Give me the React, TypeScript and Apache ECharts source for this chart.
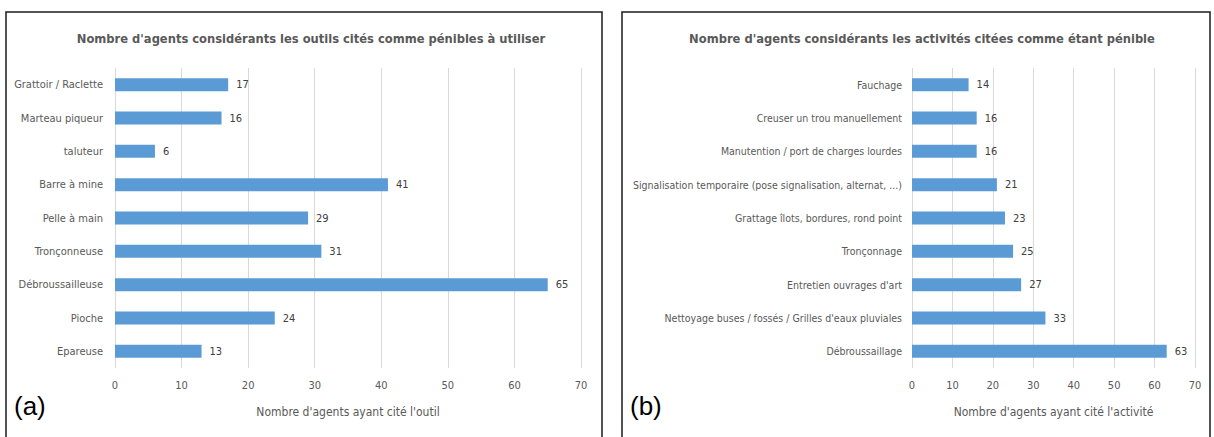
import React, { useEffect, useRef } from "react";
import * as echarts from "echarts";

const toolCategories = [
  "Grattoir / Raclette",
  "Marteau piqueur",
  "taluteur",
  "Barre à mine",
  "Pelle à main",
  "Tronçonneuse",
  "Débroussailleuse",
  "Pioche",
  "Epareuse",
];
const toolValues = [17, 16, 6, 41, 29, 31, 65, 24, 13];

const activityCategories = [
  "Fauchage",
  "Creuser un trou manuellement",
  "Manutention / port de charges lourdes",
  "Signalisation temporaire (pose signalisation, alternat, ...)",
  "Grattage îlots, bordures, rond point",
  "Tronçonnage",
  "Entretien ouvrages d'art",
  "Nettoyage buses / fossés / Grilles d'eaux pluviales",
  "Débroussaillage",
];
const activityValues = [14, 16, 16, 21, 23, 25, 27, 33, 63];

const titleLeft = "Nombre d'agents considérants les outils cités comme pénibles à utiliser";
const titleRight = "Nombre d'agents considérants les activités citées comme étant pénible";
const axisNameLeft = "Nombre d'agents ayant cité l'outil";
const axisNameRight = "Nombre d'agents ayant cité l'activité";
const panelLabels = ["(a)", "(b)"];

const FONT = "'Liberation Sans Narrow', 'DejaVu Sans Condensed', 'Roboto', sans-serif";
const BAR = "#5B9BD5";
const TXT = "#595959";

export default function App() {
  const ref = useRef<HTMLDivElement>(null);
  useEffect(() => {
    if (!ref.current) return;
    const chart = echarts.init(ref.current, undefined, { renderer: "svg" });
    const xAxisBase = (gridIndex: number, name: string) => ({
      type: "value",
      gridIndex,
      min: 0,
      max: 70,
      interval: 10,
      name,
      nameLocation: "middle",
      nameGap: 38,
      nameTextStyle: { color: TXT, fontSize: 12, fontFamily: FONT },
      axisLine: { show: false },
      axisTick: { show: false },
      axisLabel: { color: TXT, fontSize: 11, fontFamily: FONT, margin: 12 },
      splitLine: { show: true, lineStyle: { color: "#d9d9d9", width: 1 } },
    });
    const yAxisBase = (gridIndex: number, data: string[], margin: number, fontSize: number) => ({
      type: "category",
      gridIndex,
      data,
      inverse: true,
      axisLine: { show: false },
      axisTick: { show: false },
      axisLabel: { color: TXT, fontSize, fontFamily: FONT, margin },
    });
    const seriesBase = (idx: number, data: number[]) => ({
      type: "bar",
      xAxisIndex: idx,
      yAxisIndex: idx,
      data,
      barWidth: 13,
      itemStyle: { color: BAR },
      label: {
        show: true,
        position: "right",
        distance: 8,
        color: "#404040",
        fontSize: 11,
        fontFamily: FONT,
      },
    });
    const titleStyle = { color: TXT, fontSize: 12.8, fontWeight: "bold", fontFamily: FONT };
    chart.setOption({
      animation: false,
      backgroundColor: "#ffffff",
      title: [
        { text: titleLeft, left: 306, top: 27, textAlign: "center", textStyle: titleStyle },
        { text: titleRight, left: 917, top: 27, textAlign: "center", textStyle: titleStyle },
      ],
      grid: [
        { left: 115, width: 466, top: 68, height: 300 },
        { left: 912, width: 283, top: 68, height: 300 },
      ],
      xAxis: [xAxisBase(0, axisNameLeft), xAxisBase(1, axisNameRight)],
      yAxis: [
        yAxisBase(0, toolCategories, 12, 11),
        yAxisBase(1, activityCategories, 10, 10.5),
      ],
      series: [seriesBase(0, toolValues), seriesBase(1, activityValues)],
      graphic: [
        {
          type: "rect",
          shape: { x: 6, y: 12, width: 596, height: 440 },
          style: { fill: "none", stroke: "#1a1a1a", lineWidth: 1.5 },
          silent: true,
        },
        {
          type: "rect",
          shape: { x: 622, y: 12, width: 588, height: 440 },
          style: { fill: "none", stroke: "#1a1a1a", lineWidth: 1.5 },
          silent: true,
        },
        {
          type: "text",
          x: 14,
          y: 393,
          style: { text: panelLabels[0], fill: "#000000", fontSize: 26, fontFamily: "'Liberation Sans', sans-serif" },
        },
        {
          type: "text",
          x: 630,
          y: 393,
          style: { text: panelLabels[1], fill: "#000000", fontSize: 26, fontFamily: "'Liberation Sans', sans-serif" },
        },
      ],
    });
    return () => chart.dispose();
  }, []);
  return (
    <div
      ref={ref}
      style={{ position: "fixed", left: 0, top: 0, width: 1214, height: 437, background: "#fff" }}
    />
  );
}
